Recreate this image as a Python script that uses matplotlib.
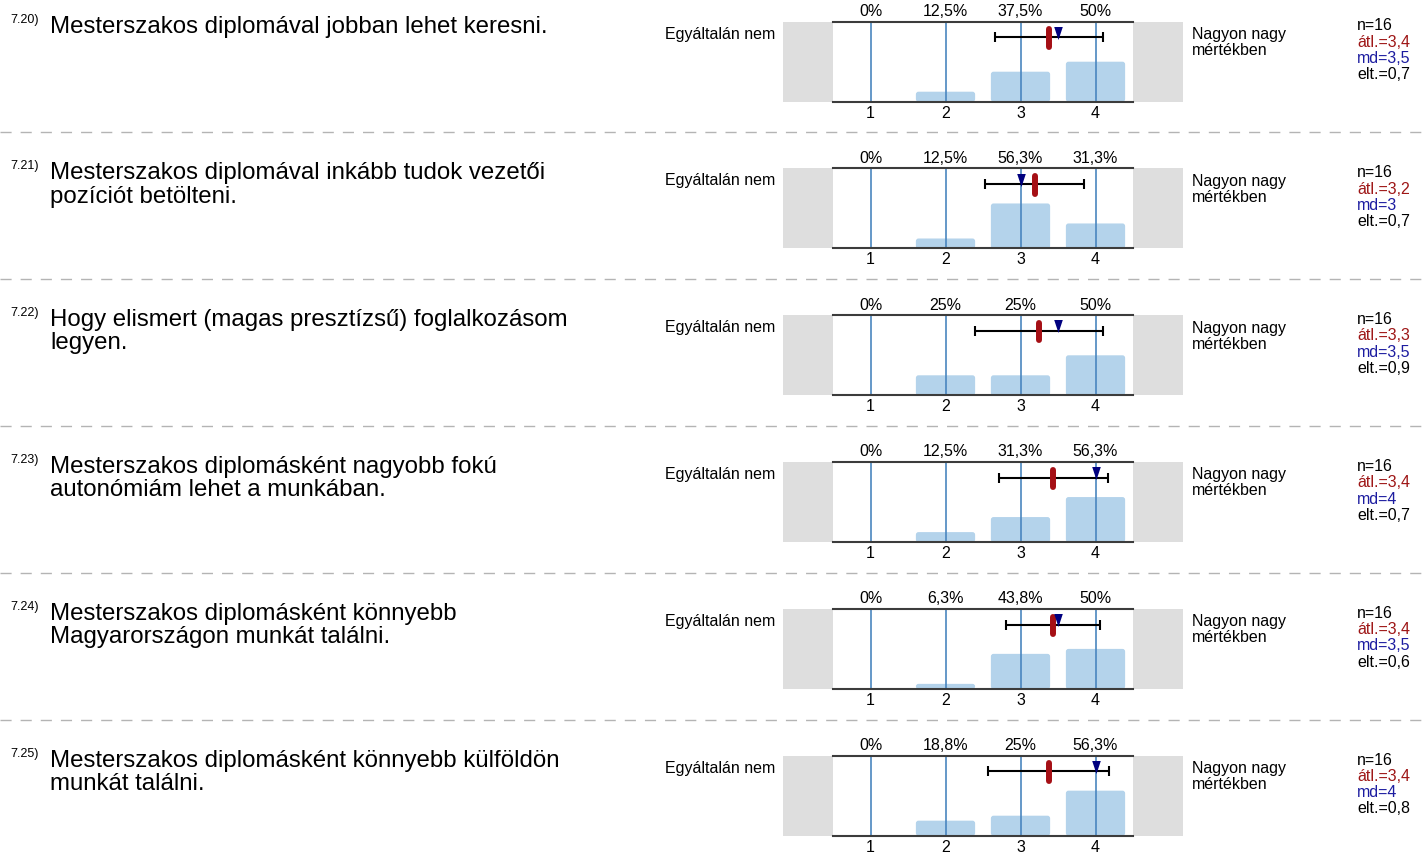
import numpy as np
import matplotlib
matplotlib.use('Agg')
import matplotlib.pyplot as plt
from matplotlib.patches import FancyBboxPatch
from matplotlib.path import Path
from decimal import Decimal, ROUND_HALF_UP

plt.rcParams['font.family'] = ['Liberation Sans', 'DejaVu Sans']
plt.rcParams['lines.scale_dashes'] = False

# ---------------- data ----------------
question_ids = ['7.20)', '7.21)', '7.22)', '7.23)', '7.24)', '7.25)']
question_lines = [
    ['Mesterszakos diplomával jobban lehet keresni.'],
    ['Mesterszakos diplomával inkább tudok vezetői', 'pozíciót betölteni.'],
    ['Hogy elismert (magas presztízsű) foglalkozásom', 'legyen.'],
    ['Mesterszakos diplomásként nagyobb fokú', 'autonómiám lehet a munkában.'],
    ['Mesterszakos diplomásként könnyebb', 'Magyarországon munkát találni.'],
    ['Mesterszakos diplomásként könnyebb külföldön', 'munkát találni.'],
]
scale_values = [1, 2, 3, 4]
pct_1 = [0, 12.5, 37.5, 50]
pct_2 = [0, 12.5, 56.3, 31.3]
pct_3 = [0, 25, 25, 50]
pct_4 = [0, 12.5, 31.3, 56.3]
pct_5 = [0, 6.3, 43.8, 50]
pct_6 = [0, 18.8, 25, 56.3]
percentages = [pct_1, pct_2, pct_3, pct_4, pct_5, pct_6]
n_resp = [16, 16, 16, 16, 16, 16]
left_label = 'Egyáltalán nem'
right_label = ['Nagyon nagy', 'mértékben']

# ---------------- styles ----------------
W, H = 1425, 855
GREY_BOX = '#DEDEDE'
BAR_COL = '#B4D3EB'
VLINE_COL = '#4A86BF'
FRAME_COL = '#3C3C3C'
MEAN_COL = '#A50F15'
MED_COL = '#00007F'
MEAN_TXT = '#9E1616'
MED_TXT = '#1C1CA0'
DASH_COL = '#B4B4B4'
SMALL = 11.5
PX = 0.72  # points per pixel at 100 dpi

AX_X0, AX_W, AX_H = 783, 400, 80
TOP0, PITCH = 21.7, 146.8


def fmt_num(v):
    d = Decimal(repr(round(float(v), 9))).quantize(Decimal('0.1'), rounding=ROUND_HALF_UP)
    s = str(d)
    if s.endswith('.0'):
        s = s[:-2]
    return s.replace('.', ',')


fig = plt.figure(figsize=(W / 100, H / 100), dpi=100)
ov = fig.add_axes([0, 0, 1, 1])
ov.set_xlim(0, W)
ov.set_ylim(H, 0)
ov.axis('off')

tri_path = Path([(-0.33, 0.5), (0.33, 0.5), (0, -0.5), (-0.33, 0.5)],
                [Path.MOVETO, Path.LINETO, Path.LINETO, Path.CLOSEPOLY])

for i in range(6):
    top = TOP0 + i * PITCH
    # question text
    ov.text(10, top + 1.0, question_ids[i], fontsize=9, va='baseline', ha='left')
    for j, line in enumerate(question_lines[i]):
        ov.text(50, top + 11.0 + j * 23.0, line, fontsize=17.3, va='baseline', ha='left')
    if i < 5:
        ov.plot([0, W], [top + 110.8, top + 110.8], color=DASH_COL, lw=1.0,
                linestyle=(0, (8.0, 6.5)))

    ax = fig.add_axes([AX_X0 / W, 1 - (top + AX_H) / H, AX_W / W, AX_H / H])
    xlo, xhi = 2.5 - 8 / 3, 2.5 + 8 / 3
    ax.set_xlim(xlo, xhi)
    ax.set_ylim(0, 100)
    ax.axis('off')

    ax.axvspan(xlo, 0.5, color=GREY_BOX, lw=0, zorder=0)
    ax.axvspan(4.5, xhi, color=GREY_BOX, lw=0, zorder=0)

    p = percentages[i]
    n = n_resp[i]
    counts = [int(round(v * n / 100)) for v in p]
    values = np.repeat(scale_values, counts)
    mean = values.mean()
    med = np.median(values)
    sd = values.std(ddof=1)

    for x, v in zip(scale_values, p):
        if v > 0:
            bar = FancyBboxPatch((x - 0.395, 0), 0.79, v,
                                 boxstyle='round,pad=0,rounding_size=0.035',
                                 mutation_aspect=93.75, facecolor=BAR_COL,
                                 edgecolor='none', zorder=1)
            ax.add_patch(bar)
        ax.plot([x, x], [0, 100], color=VLINE_COL, lw=1.2, zorder=2)
        ax.annotate(fmt_num(v) + '%', xy=(x, 100), xycoords='data',
                    xytext=(0, 10.2 * PX), textcoords='offset points',
                    ha='center', va='center', fontsize=SMALL)
        ax.annotate(str(x), xy=(x, 0), xycoords='data',
                    xytext=(0, -11.5 * PX), textcoords='offset points',
                    ha='center', va='center', fontsize=SMALL)

    ax.plot([0.5, 4.5], [100, 100], color=FRAME_COL, lw=1.5, zorder=3, clip_on=False)
    ax.plot([0.5, 4.5], [0, 0], color=FRAME_COL, lw=1.5, zorder=3, clip_on=False)

    ax.errorbar(mean, 80.5, xerr=sd, fmt='none', ecolor='black', elinewidth=1.5,
                capsize=3.8, capthick=1.5, zorder=4)
    ax.plot([mean, mean], [68.5, 90.5], color=MEAN_COL, lw=4.3,
            solid_capstyle='round', zorder=5)
    ax.plot([med], [86.0], marker=tri_path, ms=13 * PX,
            color=MED_COL, markeredgewidth=0, linestyle='none', zorder=6)

    # side labels
    ax.annotate(left_label, xy=(0, 1), xycoords='axes fraction',
                xytext=(-8 * PX, -17 * PX), textcoords='offset points',
                ha='right', va='baseline', fontsize=SMALL)
    for j, line in enumerate(right_label):
        ax.annotate(line, xy=(1, 1), xycoords='axes fraction',
                    xytext=(8.7 * PX, (-17.3 - 16 * j) * PX), textcoords='offset points',
                    ha='left', va='baseline', fontsize=SMALL)

    stats = [('n=' + str(n), 'black'),
             ('átl.=' + fmt_num(mean), MEAN_TXT),
             ('md=' + fmt_num(med), MED_TXT),
             ('elt.=' + fmt_num(sd), 'black')]
    for j, (txt, col) in enumerate(stats):
        ax.annotate(txt, xy=(1, 1), xycoords='axes fraction',
                    xytext=(174 * PX, (-8.8 - 16.3 * j) * PX), textcoords='offset points',
                    ha='left', va='baseline', fontsize=SMALL, color=col)

fig.savefig('out.png', dpi=100)
